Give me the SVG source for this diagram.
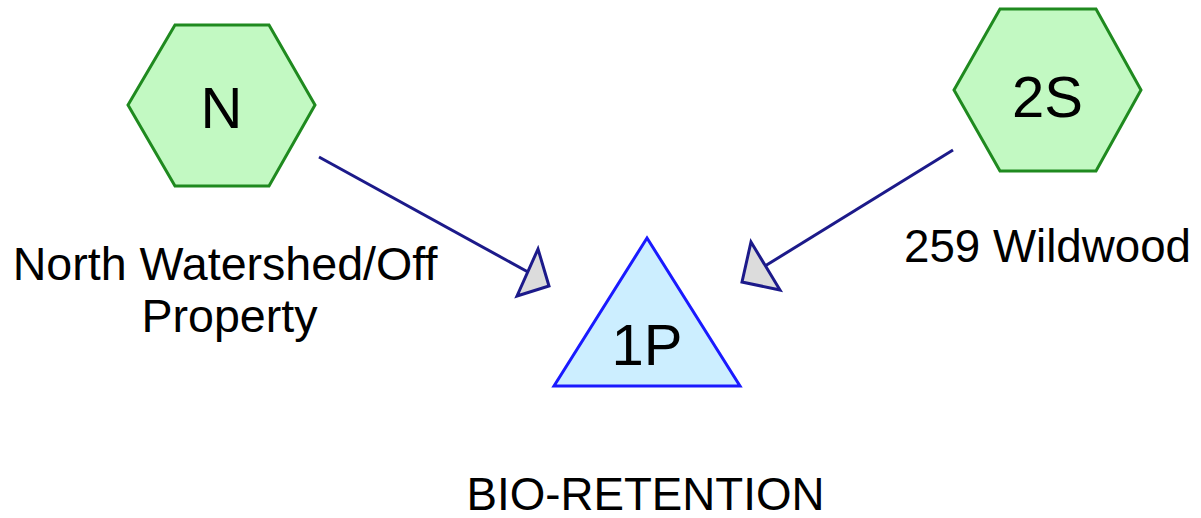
<svg xmlns="http://www.w3.org/2000/svg" width="1201" height="518" viewBox="0 0 1201 518">
  <style>
    .subcat { fill: #c2f9c2; stroke: #1f8a1f; stroke-width: 3; stroke-linejoin: miter; }
    .pond { fill: #cceeff; stroke: #1a1aff; stroke-width: 3; stroke-linejoin: miter; }
    .id { font-family: "Liberation Sans", Arial, sans-serif; font-size: 58px; fill: #000; text-anchor: middle; }
    .label { font-family: "Liberation Sans", Arial, sans-serif; font-size: 45.7px; fill: #000; text-anchor: middle; }
    .link { stroke: #1c1a8a; stroke-width: 3; fill: none; }
    .head { fill: #dcdcdc; stroke: #1c1a8a; stroke-width: 3; stroke-linejoin: miter; }
  </style>

  <!-- routing links -->
  <g id="connectors">
    <line class="link" x1="319" y1="157" x2="528" y2="272"/>
    <polygon class="head" points="538,249 517,296 549,286"/>
    <line class="link" x1="953" y1="150" x2="765" y2="266"/>
    <polygon class="head" points="751,242 780,290 742,282"/>
  </g>

  <!-- subcatchment N -->
  <g id="node-N">
    <polygon class="subcat" points="128,105 175,25 269,25 315,105 269,186 175,186"/>
    <text class="id" x="221.5" y="128">N</text>
    <text class="label" x="225" y="280" style="font-size:46.6px">North Watershed/Off</text>
    <text class="label" x="229.5" y="332" style="font-size:46.6px">Property</text>
  </g>

  <!-- subcatchment 2S -->
  <g id="node-2S">
    <polygon class="subcat" points="954,90 1000,9 1096,9 1141,90 1096,171 1000,171"/>
    <text class="id" x="1047.5" y="117">2S</text>
    <text class="label" x="1047.5" y="262">259 Wildwood</text>
  </g>

  <!-- pond 1P -->
  <g id="node-1P">
    <polygon class="pond" points="647,238 740,386 554,386"/>
    <text class="id" x="647" y="365">1P</text>
    <text class="label" x="645.5" y="510">BIO-RETENTION</text>
  </g>
</svg>
